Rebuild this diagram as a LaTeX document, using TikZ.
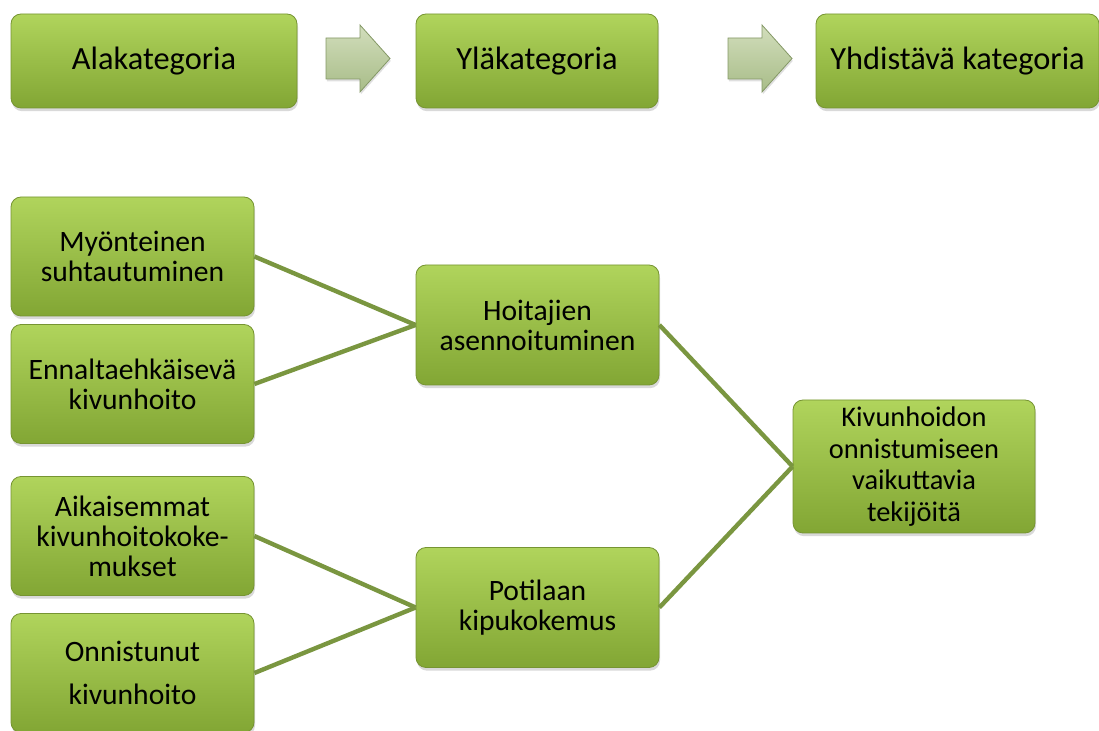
\documentclass[tikz,border=0pt]{standalone}
\usepackage{fontspec}
\setmainfont{Carlito}
\usepackage{tikz}
\usetikzlibrary{shadows,positioning}

\definecolor{lehtiyla}{RGB}{176,212,92}
\definecolor{lehtiala}{RGB}{130,166,52}
\definecolor{lehtireuna}{RGB}{118,148,50}
\definecolor{viiva}{RGB}{122,150,64}
\definecolor{nuoliyla}{RGB}{210,222,188}
\definecolor{nuoliala}{RGB}{168,188,136}
\definecolor{nuolireuna}{RGB}{132,152,102}

\tikzset{
	kategoria/.style={rectangle, rounded corners=5pt, draw=lehtireuna, line width=0.4pt,
		top color=lehtiyla, bottom color=lehtiala, align=center, inner sep=0pt,
		drop shadow={shadow xshift=0.5pt, shadow yshift=-1.6pt, opacity=0.3},
		font=\fontsize{14.8}{15}\selectfont, minimum width=121.5pt, minimum height=59.5pt},
	ylarivi/.style={kategoria, minimum height=47pt, font=\fontsize{16.2}{18}\selectfont},
	yhteys/.style={draw=viiva, line width=2.2pt},
	nuoli/.style={draw=nuolireuna, line width=0.4pt, top color=nuoliyla, bottom color=nuoliala,
		drop shadow={shadow xshift=0.4pt, shadow yshift=-1.2pt, opacity=0.25}}
}

\begin{document}
\begin{tikzpicture}[x=0.5pt,y=0.5pt]
	\useasboundingbox (0,0) rectangle (1099,-731);

	% ylarivi: selite
	\node[ylarivi, minimum width=143pt] (ala) at (154,-61) {Alakategoria};
	\node[ylarivi, minimum width=121pt] (yla) at (537,-61) {Yläkategoria};
	\node[ylarivi, minimum width=141.5pt] (yhd) at (957.5,-61) {Yhdistävä kategoria};

	\foreach \x in {326,728}
		\path[nuoli] (\x,-38) -- ++(34,0) -- ++(0,13) -- ++(30,-33.5) -- ++(-30,-33.5) -- ++(0,13) -- ++(-34,0) -- cycle;

	% alakategoriat
	\node[kategoria] (myon) at (132.5,-256.5) {Myönteinen\\suhtautuminen};
	\node[kategoria] (ennalt) at (132.5,-384) {Ennaltaehkäisevä\\kivunhoito};
	\node[kategoria] (aikais) at (132.5,-536) {Aikaisemmat\\kivunhoitokoke-\\mukset};
	\node[kategoria, font=\fontsize{14.8}{21.5}\selectfont] (onnist) at (132.5,-673) {Onnistunut\\kivunhoito};

	% ylakategoriat
	\node[kategoria, minimum height=60pt] (hoit) at (537.5,-325) {Hoitajien\\asennoituminen};
	\node[kategoria, minimum height=60pt] (potil) at (537.5,-607.5) {Potilaan\\kipukokemus};

	% yhdistava kategoria
	\node[kategoria, minimum width=121pt, minimum height=66.5pt, font=\fontsize{14.2}{15.75}\selectfont] (kivun) at (914,-466.5) {Kivunhoidon\\onnistumiseen\\vaikuttavia\\tekijöitä};

	\draw[yhteys] (myon.east) -- (hoit.west);
	\draw[yhteys] (ennalt.east) -- (hoit.west);
	\draw[yhteys] (aikais.east) -- (potil.west);
	\draw[yhteys] (onnist.east) -- (potil.west);
	\draw[yhteys] (hoit.east) -- (kivun.west);
	\draw[yhteys] (potil.east) -- (kivun.west);
\end{tikzpicture}
\end{document}
